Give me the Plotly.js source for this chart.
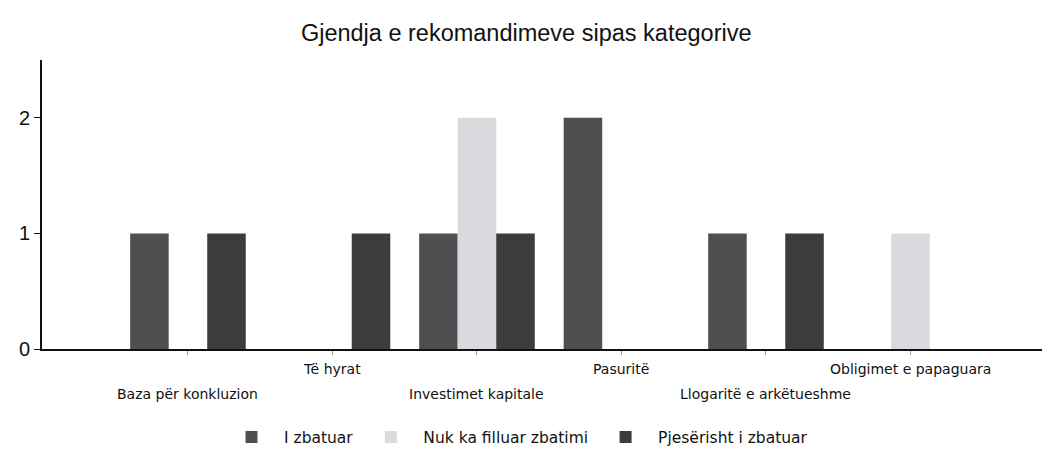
<!DOCTYPE html>
<html>
<head>
<meta charset="utf-8">
<script src="https://cdn.plot.ly/plotly-3.0.1.min.js"></script>
<style>html,body{margin:0;padding:0;background:#fff;}#chart{width:1042px;height:455px;}</style>
</head>
<body>
<div id="chart"></div>
<script>
const categories = ["Baza për konkluzion", "Të hyrat", "Investimet kapitale", "Pasuritë", "Llogaritë e arkëtueshme", "Obligimet e papaguara"];
const seriesNames = ["I zbatuar", "Nuk ka filluar zbatimi", "Pjesërisht i zbatuar"];
const iZbatuar = [1, 0, 1, 2, 1, 0];
const nukKaFilluar = [0, 0, 2, 0, 0, 1];
const pjeserisht = [1, 1, 1, 0, 1, 0];
const yTicks = [0, 1, 2];

const colors = ["#4f4f51", "#d9d9de", "#3c3c3e"];
const values = [iZbatuar, nukKaFilluar, pjeserisht];

const traces = values.map((v, i) => ({
  type: "bar",
  name: seriesNames[i],
  x: categories,
  y: v,
  marker: {color: colors[i], line: {width: 0}},
  hoverinfo: "x+y+name"
}));

const annotations = categories.map((c, i) => ({
  x: c, xref: "x",
  y: 0, yref: "paper",
  yanchor: "middle",
  yshift: i % 2 === 0 ? -45 : -20,
  text: c,
  showarrow: false,
  font: {family: "DejaVu Sans, sans-serif", size: 14, color: "#111"}
}));

const layout = {
  width: 1042, height: 455,
  margin: {l: 42, r: 0, t: 60, b: 104},
  paper_bgcolor: "#fff", plot_bgcolor: "#fff",
  font: {family: "Liberation Sans, Arial, sans-serif", color: "#111"},
  title: {text: "Gjendja e rekomandimeve sipas kategorive", x: 0.505, xref: "container", xanchor: "center", y: 0.927, yanchor: "middle", font: {size: 23.5, color: "#111"}},
  barmode: "group",
  bargap: 0.2,
  bargroupgap: 0,
  xaxis: {
    type: "category",
    categoryorder: "array", categoryarray: categories,
    range: [-1.01, 5.91],
    showline: true, linecolor: "#111", linewidth: 2,
    ticks: "outside", ticklen: 4, tickcolor: "#999", tickwidth: 1,
    showticklabels: false,
    showgrid: false, zeroline: false
  },
  yaxis: {
    range: [0, 2.5],
    tickvals: yTicks,
    ticktext: yTicks.map(String),
    showline: true, linecolor: "#111", linewidth: 2,
    ticks: "outside", ticklen: 6, tickcolor: "#111",
    tickfont: {size: 20, color: "#111"},
    showgrid: false, zeroline: false
  },
  legend: {
    orientation: "h",
    x: 0.474, xanchor: "center",
    y: -0.306, yanchor: "middle",
    font: {family: "DejaVu Sans, sans-serif", size: 15.5, color: "#111"},
    itemwidth: 55,
    traceorder: "normal"
  },
  annotations: annotations,
  showlegend: true
};

Plotly.newPlot("chart", traces, layout, {displayModeBar: false, staticPlot: true});
</script>
</body>
</html>
